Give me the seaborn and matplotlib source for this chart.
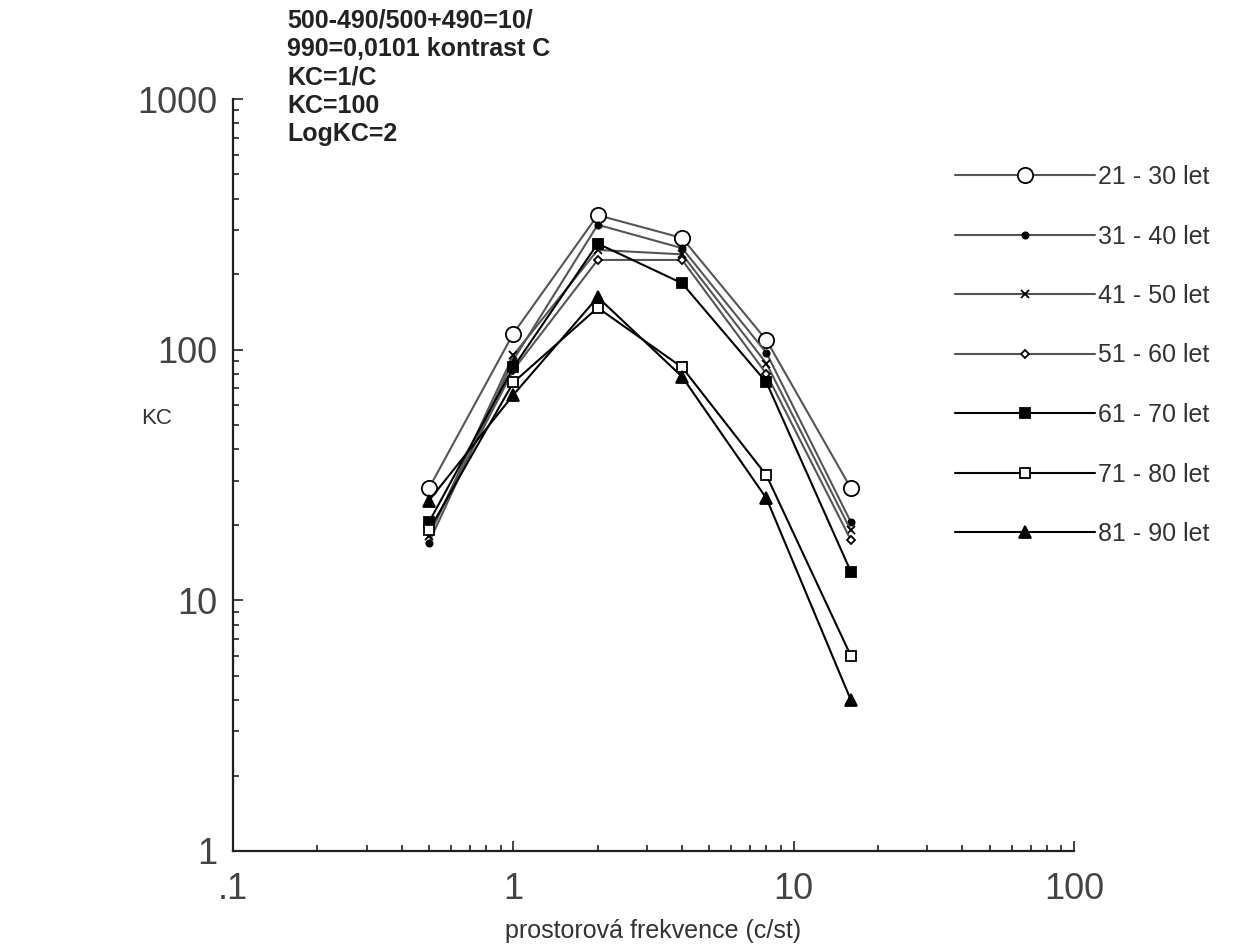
import pandas as pd
import matplotlib
matplotlib.use("Agg")
import matplotlib.pyplot as plt
import matplotlib.ticker as mticker
import seaborn as sns

# spatial frequency (c/st)
freq = [0.5, 1, 2, 4, 8, 16]

# contrast sensitivity KC per age group
kc_21_30 = [28, 116, 344, 279, 109, 28]
kc_31_40 = [17, 91, 315, 254, 97, 20.5]
kc_41_50 = [18, 95, 250, 240, 88, 19]
kc_51_60 = [18.5, 83, 228, 228, 80, 17.4]
kc_61_70 = [20.5, 85, 265, 184, 74, 13]
kc_71_80 = [19, 74, 147, 85, 31.5, 6]
kc_81_90 = [25, 66, 162, 78, 25.5, 4]

groups = ["21 - 30 let", "31 - 40 let", "41 - 50 let", "51 - 60 let",
          "61 - 70 let", "71 - 80 let", "81 - 90 let"]
series = [kc_21_30, kc_31_40, kc_41_50, kc_51_60, kc_61_70, kc_71_80, kc_81_90]

x_ticks = [0.1, 1, 10, 100]
x_labels = [".1", "1", "10", "100"]
y_ticks = [1, 10, 100, 1000]
y_labels = ["1", "10", "100", "1000"]

note_lines = ["500-490/500+490=10/", "990=0,0101 kontrast C",
              "KC=1/C", "KC=100", "LogKC=2"]

rows = []
for g, vals in zip(groups, series):
    for f, v in zip(freq, vals):
        rows.append({"freq": f, "KC": v, "group": g})
df = pd.DataFrame(rows)

# marker, size, face colour, line colour
styles = {
    "21 - 30 let": ("o", 11, "white", "#555555"),
    "31 - 40 let": ("o", 4.5, "black", "#555555"),
    "41 - 50 let": ("x", 6, "black", "#555555"),
    "51 - 60 let": ("D", 4.5, "white", "#555555"),
    "61 - 70 let": ("s", 7.5, "black", "black"),
    "71 - 80 let": ("s", 7.5, "white", "black"),
    "81 - 90 let": ("^", 8, "black", "black"),
}

sns.set_style("ticks")
plt.rcParams["font.family"] = ["Liberation Sans", "DejaVu Sans"]

fig = plt.figure(figsize=(12.45, 9.52), dpi=100)
ax = fig.add_axes([233 / 1245, 101 / 952, 841 / 1245, 752 / 952])

for g in groups:
    m, ms, fc, lc = styles[g]
    sns.lineplot(data=df[df["group"] == g], x="freq", y="KC", ax=ax,
                 color=lc, marker=m, markersize=ms, markerfacecolor=fc,
                 markeredgecolor="black", markeredgewidth=1.3,
                 linewidth=1.5, label=g)

ax.set_xscale("log")
ax.set_yscale("log")
ax.set_xlim(0.1, 100)
ax.set_ylim(1, 1000)
ax.xaxis.set_major_locator(mticker.FixedLocator(x_ticks))
ax.xaxis.set_major_formatter(mticker.FixedFormatter(x_labels))
ax.yaxis.set_major_locator(mticker.FixedLocator(y_ticks))
ax.yaxis.set_major_formatter(mticker.FixedFormatter(y_labels))
ax.xaxis.set_minor_locator(mticker.LogLocator(base=10, subs=range(2, 10)))
ax.yaxis.set_minor_locator(mticker.LogLocator(base=10, subs=range(2, 10)))
ax.xaxis.set_minor_formatter(mticker.NullFormatter())
ax.yaxis.set_minor_formatter(mticker.NullFormatter())

ax.tick_params(which="both", direction="in", width=1.2, color="#222222")
ax.tick_params(which="major", length=7, labelsize=26, labelcolor="#444444")
ax.tick_params(which="minor", length=4.5)
ax.tick_params(axis="y", which="major", pad=11)
ax.tick_params(axis="x", which="major", pad=15)
sns.despine(ax=ax)
for s in ["left", "bottom"]:
    ax.spines[s].set_linewidth(1.6)
    ax.spines[s].set_color("#222222")

ax.set_xlabel("prostorová frekvence (c/st)", fontsize=18, color="#333333", labelpad=9)
ax.set_ylabel("")
fig.text(157 / 1245, 1 - 418 / 952, "KC", fontsize=16, color="#333333",
         ha="center", va="center")

for i, line in enumerate(note_lines):
    fig.text(287 / 1245, 1 - (21 + 28.2 * i) / 952, line, fontsize=18,
             fontweight="bold", color="#222222", ha="left", va="center")

leg = ax.legend(loc="upper left", bbox_to_anchor=(955 / 1245, 1 - 165 / 952),
                bbox_transform=fig.transFigure, frameon=False,
                handlelength=5.6, handletextpad=0.12, labelspacing=1.42,
                borderpad=0, borderaxespad=0, fontsize=18)
for t in leg.get_texts():
    t.set_color("#333333")

fig.savefig("out.png", dpi=100, facecolor="white")
